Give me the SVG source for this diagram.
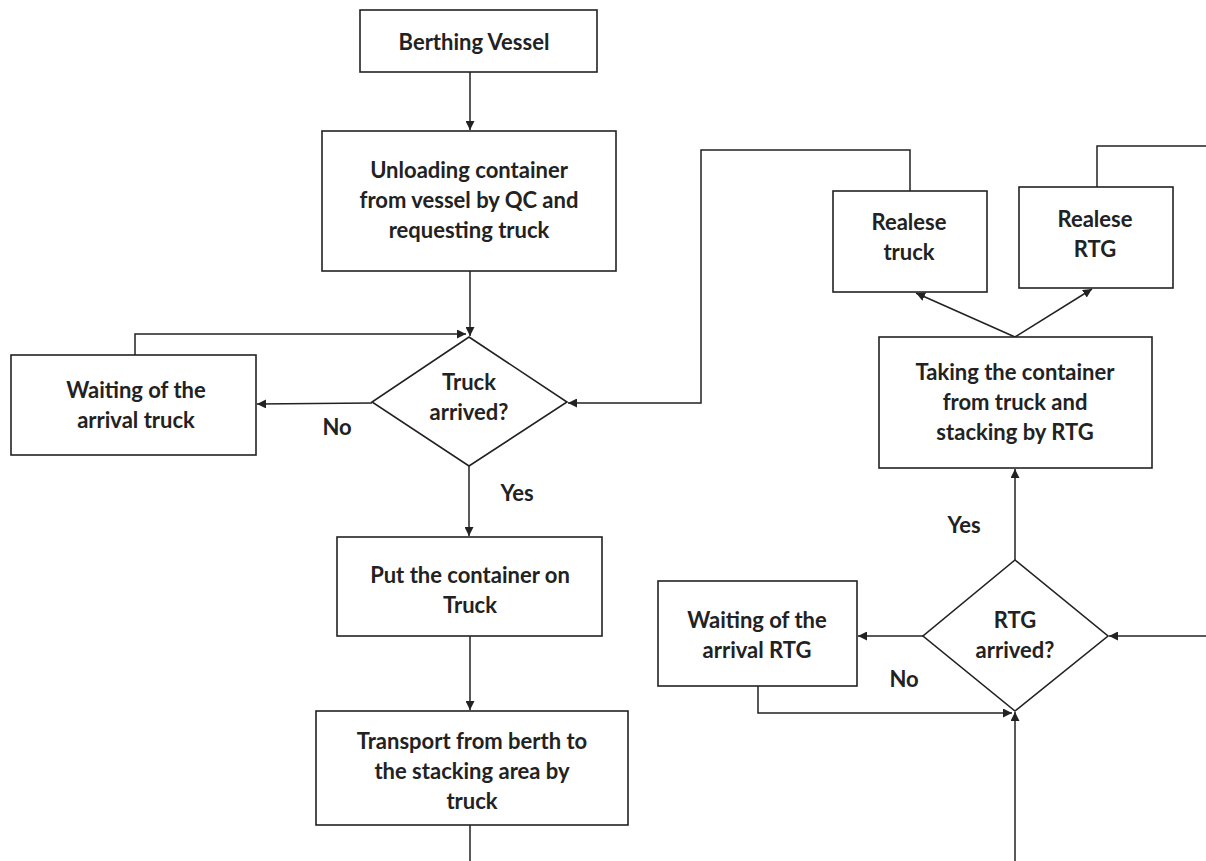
<svg xmlns="http://www.w3.org/2000/svg" width="1206" height="861" viewBox="0 0 1206 861">
<style>
.n{fill:#fff;stroke:#222;stroke-width:1.6}
.c{fill:none;stroke:#222;stroke-width:1.5}
text{font-family:Lato,"Liberation Sans",sans-serif;font-weight:bold;font-size:22px;fill:#222;text-anchor:middle}
</style>
<defs>
<marker id="a" viewBox="0 0 10 10" refX="10" refY="5" markerWidth="9" markerHeight="9" markerUnits="userSpaceOnUse" orient="auto"><path d="M0,0L10,5L0,10z" fill="#222"/></marker>
</defs>
<rect width="1206" height="861" fill="#fff"/>
<g id="connectors">
<path class="c" d="M470,72V130" marker-end="url(#a)"/>
<path class="c" d="M470,271V336" marker-end="url(#a)"/>
<path class="c" d="M372,403L257,404" marker-end="url(#a)"/>
<path class="c" d="M135,355V334H466" marker-end="url(#a)"/>
<path class="c" d="M469,466V536" marker-end="url(#a)"/>
<path class="c" d="M470,636V710" marker-end="url(#a)"/>
<path class="c" d="M470,825V861"/>
<path class="c" d="M910,191V150H701V403H568" marker-end="url(#a)"/>
<path class="c" d="M1097,187V146H1206"/>
<path class="c" d="M1015,337L916,293" marker-end="url(#a)"/>
<path class="c" d="M1015,337L1092,289" marker-end="url(#a)"/>
<path class="c" d="M1015,560V469" marker-end="url(#a)"/>
<path class="c" d="M1206,636H1109" marker-end="url(#a)"/>
<path class="c" d="M923,636H858" marker-end="url(#a)"/>
<path class="c" d="M758,686V713H1012" marker-end="url(#a)"/>
<path class="c" d="M1015,861V712" marker-end="url(#a)"/>
</g>
<g id="berthing"><rect class="n" x="360" y="10" width="237" height="62"/><text x="474" y="50">Berthing Vessel</text></g>
<g id="unloading"><rect class="n" x="322" y="131" width="294" height="140"/><text x="469" y="178">Unloading container</text><text x="469" y="208">from vessel by QC and</text><text x="469" y="238">requesting truck</text></g>
<g id="truck-arrived"><path class="n" d="M469,337L567,402L469,466L372,402z"/><text x="469" y="390">Truck</text><text x="469" y="420">arrived?</text></g>
<g id="waiting-truck"><rect class="n" x="11" y="355" width="245" height="100"/><text x="136" y="398">Waiting of the</text><text x="136" y="428">arrival truck</text></g>
<g id="no1"><text x="337" y="435">No</text></g>
<g id="yes1"><text x="517" y="501">Yes</text></g>
<g id="put"><rect class="n" x="337" y="537" width="265" height="99"/><text x="470" y="583">Put the container on</text><text x="470" y="613">Truck</text></g>
<g id="transport"><rect class="n" x="316" y="711" width="312" height="114"/><text x="472" y="749">Transport from berth to</text><text x="472" y="779">the stacking area by</text><text x="472" y="809">truck</text></g>
<g id="release-truck"><rect class="n" x="833" y="191" width="154" height="101"/><text x="909" y="230">Realese</text><text x="909" y="260">truck</text></g>
<g id="release-rtg"><rect class="n" x="1019" y="187" width="154" height="101"/><text x="1095" y="227">Realese</text><text x="1095" y="257">RTG</text></g>
<g id="taking"><rect class="n" x="879" y="337" width="273" height="131"/><text x="1015" y="380">Taking the container</text><text x="1015" y="410">from truck and</text><text x="1015" y="440">stacking by RTG</text></g>
<g id="yes2"><text x="964" y="533">Yes</text></g>
<g id="rtg-arrived"><path class="n" d="M1015,560L1108,636L1015,711L923,636z"/><text x="1015" y="628">RTG</text><text x="1015" y="658">arrived?</text></g>
<g id="waiting-rtg"><rect class="n" x="658" y="581" width="199" height="105"/><text x="757" y="628">Waiting of the</text><text x="757" y="658">arrival RTG</text></g>
<g id="no2"><text x="904" y="687">No</text></g>
</svg>
